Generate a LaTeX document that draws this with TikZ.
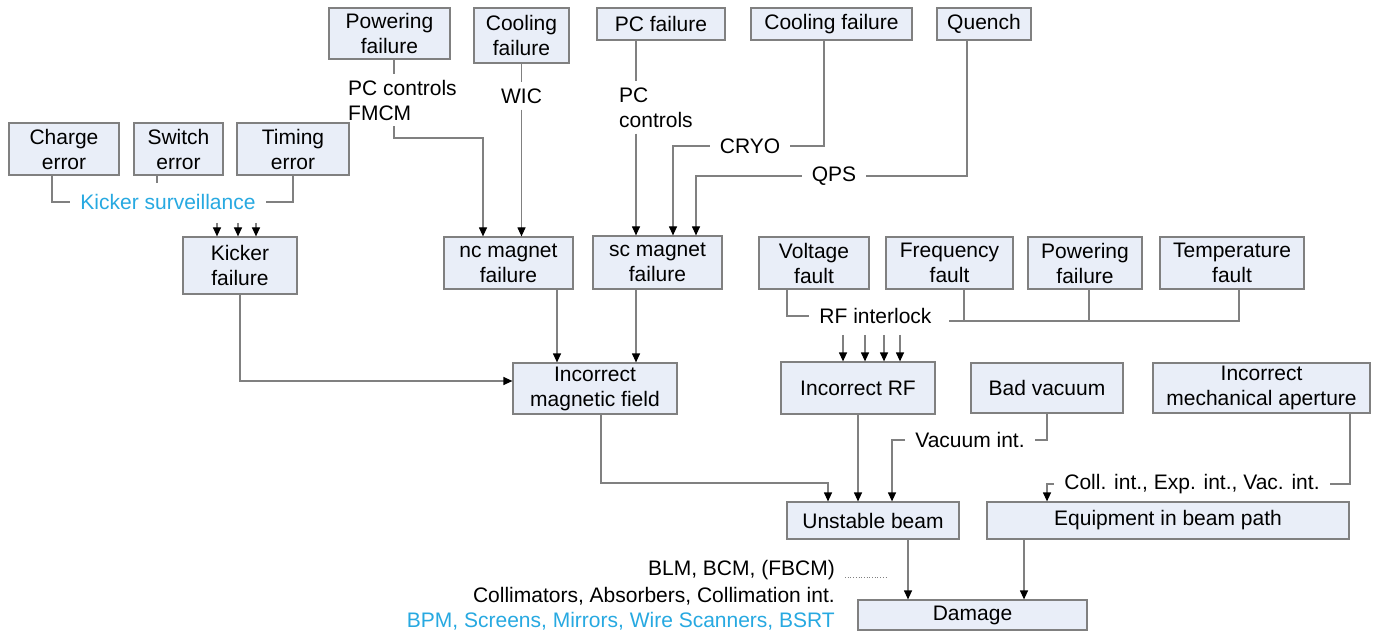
\documentclass[tikz,border=0pt]{standalone}
\usepackage{fontspec}
\setmainfont{Liberation Sans}
\usepackage{xcolor}
\usetikzlibrary{arrows.meta, positioning}

\definecolor{boxfill}{RGB}{233,238,248}
\definecolor{boxline}{RGB}{128,128,128}
\definecolor{kcyan}{RGB}{39,169,225}

\tikzset{
    blk/.style={draw=boxline, fill=boxfill, line width=1.2pt, align=center, inner sep=0pt,
            font=\fontsize{21}{25}\selectfont},
    lbl/.style={inner xsep=10pt, inner ysep=6pt, font=\fontsize{21}{25}\selectfont},
    wire/.style={draw=boxline, line width=1.2pt},
    arr/.style={wire, -{Triangle[length=9pt,width=8pt,color=black]}},
}

\begin{document}
\begin{tikzpicture}[x=1pt,y=-1pt]
        \path[fill=white, use as bounding box] (0,0) rectangle (1376,631);

        % Top row
        \node[blk, minimum width=121, minimum height=51] (pwrA) at (389.5,33.5) {Powering\\failure};
        \node[blk, minimum width=95, minimum height=55] (coolA) at (521.5,35.5) {Cooling\\failure};
        \node[blk, minimum width=128, minimum height=32] (pcf) at (661,24) {PC failure};
        \node[blk, minimum width=161, minimum height=32] (coolB) at (831.5,24) {Cooling failure};
        \node[blk, minimum width=94, minimum height=32] (qnch) at (984,24) {Quench};

        % Kicker branch
        \node[blk, minimum width=110, minimum height=52] (chg) at (64,149) {Charge\\error};
        \node[blk, minimum width=89, minimum height=52] (swt) at (178.5,149) {Switch\\error};
        \node[blk, minimum width=112, minimum height=52] (tim) at (293,149) {Timing\\error};
        \node[lbl, text=kcyan] (ksur) at (168,202) {Kicker surveillance};
        \node[blk, minimum width=114, minimum height=57] (kick) at (240,265.5) {Kicker\\failure};
        \coordinate (swtend) at (157,183);

        \draw[wire] (chg.south -| 52,0) |- (ksur.west);
        \draw[wire] (swt.south -| swtend) -- (swtend);
        \draw[wire] (tim.south) |- (ksur.east);
        \foreach \x in {217,238,256} {
                \draw[arr] ([yshift=-7pt]ksur.south -| \x,0) -- (kick.north -| \x,0);
            }

        % Magnets
        \node[blk, minimum width=129, minimum height=52] (nc) at (508.5,263) {nc magnet\\failure};
        \node[blk, minimum width=129, minimum height=53] (sc) at (657.5,262.5) {sc magnet\\failure};
        \node[lbl, anchor=west, align=left] (pcfm) at (338,100) {PC controls\\FMCM};
        \node[lbl] (wic) at (521.5,96) {WIC};
        \node[lbl, anchor=west, align=left] (pcc) at (609,107.5) {PC\\controls};
        \node[lbl] (cryo) at (750,146) {CRYO};
        \node[lbl] (qps) at (834,176) {QPS};
        \coordinate (ncbend) at (483,138);

        \draw[wire] (pwrA.south -| 394,0) -- (pcfm.north -| 394,0);
        \draw[arr] (pcfm.south -| 394,0) |- (ncbend) -- (nc.north -| ncbend);
        \draw[wire] (coolA) -- (wic);
        \draw[arr] (wic) -- (nc.north -| wic);
        \draw[wire] (pcf.south -| 636,0) -- (pcc.north -| 636,0);
        \draw[arr] (pcc.south -| 636,0) -- (sc.north -| 636,0);
        \draw[wire] (coolB.south -| 824,0) |- (cryo.east);
        \draw[arr] (cryo.west) -| (sc.north -| 673,0);
        \draw[wire] (qnch.south -| 967,0) |- (qps.east);
        \draw[arr] (qps.west) -| (sc.north -| 696,0);

        % Magnetic field
        \node[blk, minimum width=164, minimum height=51] (img) at (595,388.5) {Incorrect\\magnetic field};
        \draw[arr] (nc.south -| 557,0) -- (img.north -| 557,0);
        \draw[arr] (sc.south -| 636,0) -- (img.north -| 636,0);
        \draw[arr] (kick.south) |- (img.west |- 0,381);

        % RF branch
        \node[blk, minimum width=110, minimum height=52] (volt) at (814,263) {Voltage\\fault};
        \node[blk, minimum width=127, minimum height=52] (freq) at (949.5,263) {Frequency\\fault};
        \node[blk, minimum width=114, minimum height=52] (pwrB) at (1085,263) {Powering\\failure};
        \node[blk, minimum width=144, minimum height=52] (temp) at (1232,263) {Temperature\\fault};
        \node[lbl] (rfil) at (875.5,316) {RF interlock};
        \node[blk, minimum width=154, minimum height=52] (irf) at (858,388) {Incorrect RF};
        \coordinate (rfend) at (949,321);

        \draw[wire] (volt.south -| 787,0) |- (rfil.west);
        \draw[wire] (temp.south -| 1239,0) |- (rfend);
        \draw[wire] (freq.south -| 964,0) -- (rfend -| 964,0);
        \draw[wire] (pwrB.south -| 1089,0) -- (rfend -| 1089,0);
        \foreach \x in {843,865,884,900} {
                \draw[arr] ([yshift=-5pt]rfil.south -| \x,0) -- (irf.north -| \x,0);
            }

        % Vacuum and aperture
        \node[blk, minimum width=152, minimum height=50] (bvac) at (1047,388) {Bad vacuum};
        \node[blk, minimum width=217, minimum height=50] (mech) at (1261.5,388) {Incorrect\\mechanical aperture};
        \node[lbl] (vint) at (970,440) {Vacuum int.};
        \node[lbl] (cint) at (1192,484) {Coll. int., Exp. int., Vac. int.};

        % Beam
        \node[blk, minimum width=172, minimum height=37] (unst) at (873,520.5) {Unstable beam};
        \node[blk, minimum width=362, minimum height=37] (equip) at (1168,520.5) {Equipment in beam path};
        \node[blk, minimum width=229, minimum height=30] (dmg) at (972.5,615) {Damage};
        \coordinate (imgbend) at (828,483);

        \draw[wire] (bvac.south) |- (vint.east);
        \draw[arr] (vint.west) -| (unst.north -| 892,0);
        \draw[wire] (mech.south -| 1350,0) |- (cint.east);
        \draw[arr] (cint.west) -| (equip.north -| 1047,0);
        \draw[arr] (img.south -| 601,0) |- (imgbend) -- (unst.north -| imgbend);
        \draw[arr] (irf.south) -- (unst.north -| irf.south);
        \draw[arr] (unst.south -| 908,0) -- (dmg.north -| 908,0);
        \draw[arr] (equip.south -| 1024,0) -- (dmg.north -| 1024,0);

        % Protection systems
        \node[lbl, anchor=east] (blm) at (845,570) {BLM, BCM, (FBCM)};
        \node[lbl, anchor=east] (coll) at (845,596) {Collimators, Absorbers, Collimation int.};
        \node[lbl, anchor=east, text=kcyan] (bpm) at (845,621) {BPM, Screens, Mirrors, Wire Scanners, BSRT};
        \coordinate (dotend) at (888,577);
        \draw[boxline, dotted, line width=0.7pt] (blm.east |- dotend) -- (dotend);
    \end{tikzpicture}
\end{document}
